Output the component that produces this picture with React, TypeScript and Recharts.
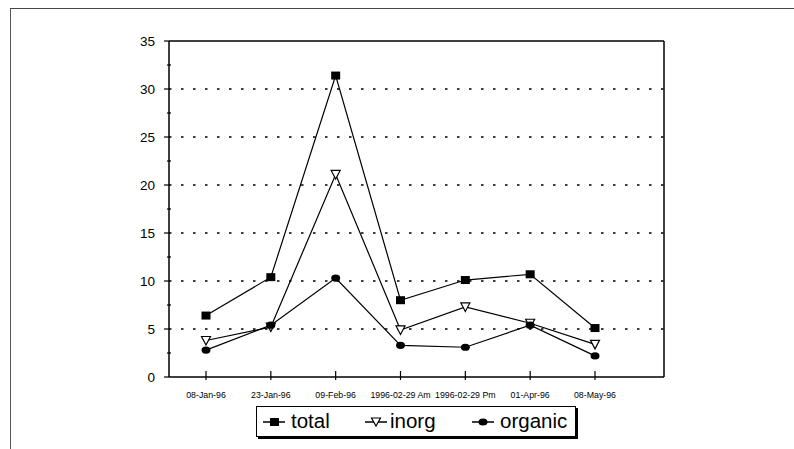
import React from "react";
import { LineChart, Line, XAxis, YAxis, ReferenceLine } from "recharts";

const categories = [
  "08-Jan-96",
  "23-Jan-96",
  "09-Feb-96",
  "1996-02-29 Am",
  "1996-02-29 Pm",
  "01-Apr-96",
  "08-May-96",
];
const total = [6.4, 10.4, 31.4, 8.0, 10.1, 10.7, 5.1];
const inorg = [3.8, 5.2, 21.1, 4.9, 7.3, 5.6, 3.4];
const organic = [2.8, 5.4, 10.3, 3.3, 3.1, 5.4, 2.2];

const yTicks = [0, 2.5, 5, 7.5, 10, 12.5, 15, 17.5, 20, 22.5, 25, 27.5, 30, 32.5, 35];
const gridLevels = [5, 10, 15, 20, 25, 30];

const data = categories.map((name, i) => ({
  name,
  total: total[i],
  inorg: inorg[i],
  organic: organic[i],
}));

const FONT = "'Liberation Sans', Arial, Helvetica, sans-serif";
const AXIS = { stroke: "#000", strokeWidth: 1.5 };

function SquareDot({ cx, cy }: any) {
  if (cx == null || cy == null) return null;
  return <rect x={cx - 4.5} y={cy - 4} width={9} height={8} fill="#000" />;
}

function TriangleDot({ cx, cy }: any) {
  if (cx == null || cy == null) return null;
  return (
    <polygon
      points={`${cx - 4.5},${cy - 4} ${cx + 4.5},${cy - 4} ${cx},${cy + 4.5}`}
      fill="#fff"
      stroke="#000"
      strokeWidth={1.2}
    />
  );
}

function CircleDot({ cx, cy }: any) {
  if (cx == null || cy == null) return null;
  return <ellipse cx={cx} cy={cy} rx={4.5} ry={3.6} fill="#000" />;
}

function XTick({ x, y, payload }: any) {
  return (
    <g>
      <line x1={x} x2={x} y1={y - 6} y2={y + 3} stroke="#000" strokeWidth={1.2} />
      <text
        x={x}
        y={y + 21}
        textAnchor="middle"
        fontSize={8.8}
        fontFamily={FONT}
        fill="#000"
      >
        {payload.value}
      </text>
    </g>
  );
}

function YTick({ x, y, payload }: any) {
  const major = payload.value % 5 === 0;
  if (!major) {
    return <line x1={x - 2} x2={x + 2} y1={y} y2={y} stroke="#000" strokeWidth={1.2} />;
  }
  return (
    <g>
      <line x1={x - 5} x2={x} y1={y} y2={y} stroke="#000" strokeWidth={1.2} />
      <text
        x={x - 14}
        y={y + 5}
        textAnchor="end"
        fontSize={13.5}
        fontFamily={FONT}
        fill="#000"
      >
        {payload.value}
      </text>
    </g>
  );
}

function LegendIcon({ kind }: { kind: string }) {
  return (
    <svg width={22} height={12} style={{ display: "block" }}>
      <line x1={0} x2={22} y1={6} y2={6} stroke="#000" strokeWidth={1.5} />
      {kind === "total" && <rect x={7} y={2} width={9} height={8} fill="#000" />}
      {kind === "inorg" && (
        <polygon points="6.5,2 15.5,2 11,10" fill="#fff" stroke="#000" strokeWidth={1.2} />
      )}
      {kind === "organic" && <ellipse cx={11} cy={6} rx={4.5} ry={3.6} fill="#000" />}
    </svg>
  );
}

// icon / label offsets inside the legend box
const legendItems = [
  { key: "total", label: "total", icon: 6, text: 34 },
  { key: "inorg", label: "inorg", icon: 108, text: 133 },
  { key: "organic", label: "organic", icon: 215, text: 243 },
];

export default function App() {
  return (
    <div
      style={{
        position: "absolute",
        left: 0,
        top: 0,
        width: 794,
        height: 449,
        background: "#fff",
        overflow: "hidden",
      }}
    >
      {/* page frame */}
      <div
        style={{
          position: "absolute",
          left: 10,
          top: 8,
          width: 800,
          height: 460,
          borderTop: "1px solid #444",
          borderLeft: "1px solid #555",
        }}
      />

      <div style={{ position: "absolute", left: 0, top: 0 }}>
        <LineChart
          width={794}
          height={449}
          data={data}
          margin={{ top: 40, right: 129, bottom: 42, left: 129 }}
        >
          <XAxis
            dataKey="name"
            height={30}
            padding={{ left: 37, right: 69 }}
            tickSize={0}
            tickMargin={0}
            tick={<XTick />}
            tickLine={false}
            interval={0}
            axisLine={AXIS}
          />
          {/* top and right edges of the plot box */}
          <XAxis
            xAxisId="top"
            orientation="top"
            dataKey="name"
            height={1}
            tick={false}
            tickLine={false}
            axisLine={AXIS}
          />
          <YAxis
            width={40}
            type="number"
            domain={[0, 35]}
            ticks={yTicks}
            interval={0}
            tickSize={0}
            tickMargin={0}
            tick={<YTick />}
            tickLine={false}
            axisLine={AXIS}
          />
          <YAxis
            yAxisId="right"
            orientation="right"
            width={1}
            type="number"
            domain={[0, 35]}
            tick={false}
            tickLine={false}
            axisLine={AXIS}
          />
          {gridLevels.map((v) => (
            <ReferenceLine
              key={v}
              y={v}
              stroke="#000"
              strokeWidth={1.4}
              strokeDasharray="2.5 9.5"
            />
          ))}
          <Line
            dataKey="total"
            type="linear"
            stroke="#000"
            strokeWidth={1.2}
            dot={<SquareDot />}
            activeDot={false}
            isAnimationActive={false}
          />
          <Line
            dataKey="inorg"
            type="linear"
            stroke="#000"
            strokeWidth={1.2}
            dot={<TriangleDot />}
            activeDot={false}
            isAnimationActive={false}
          />
          <Line
            dataKey="organic"
            type="linear"
            stroke="#000"
            strokeWidth={1.2}
            dot={<CircleDot />}
            activeDot={false}
            isAnimationActive={false}
          />
        </LineChart>
      </div>

      <div
        style={{
          position: "absolute",
          left: 256,
          top: 406,
          width: 320,
          height: 31,
          border: "1px solid #000",
          boxShadow: "2px 2px 0 #000",
          boxSizing: "border-box",
          fontFamily: FONT,
          fontSize: 20.5,
          color: "#000",
        }}
      >
        {legendItems.map((it) => (
          <React.Fragment key={it.key}>
            <div style={{ position: "absolute", left: it.icon, top: 9 }}>
              <LegendIcon kind={it.key} />
            </div>
            <span
              style={{
                position: "absolute",
                left: it.text,
                top: 2,
                lineHeight: "24px",
                whiteSpace: "nowrap",
              }}
            >
              {it.label}
            </span>
          </React.Fragment>
        ))}
      </div>
    </div>
  );
}
